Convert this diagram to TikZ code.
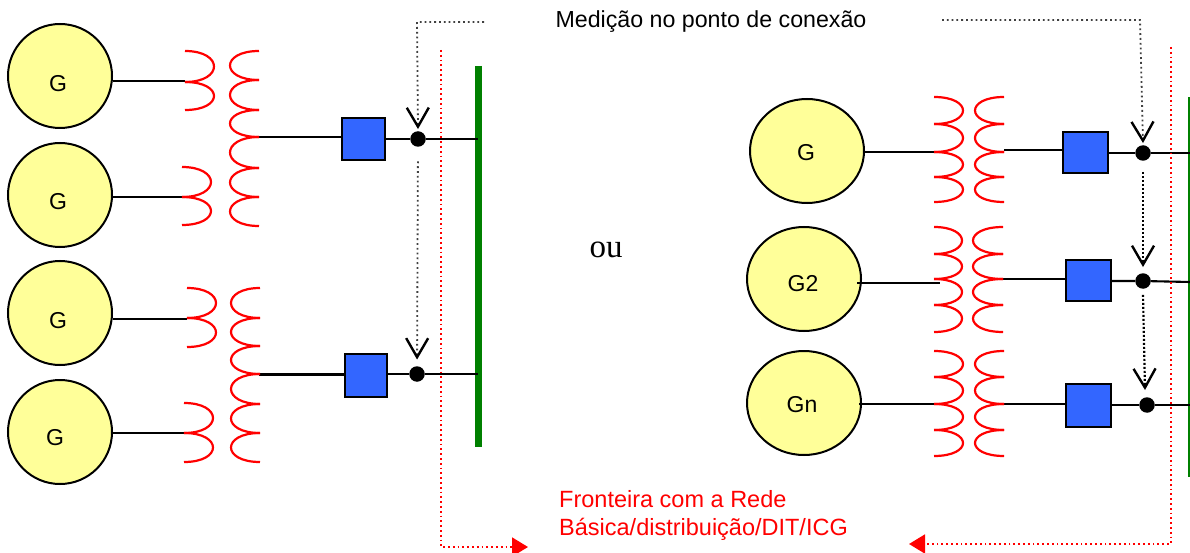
\documentclass[tikz,border=0pt]{standalone}
\usepackage{fontspec}
\setmainfont{Liberation Sans}
\newfontfamily\ouserif{Liberation Serif}
\usetikzlibrary{arrows.meta,shapes.geometric}
\definecolor{genyellow}{HTML}{FFFF99}
\definecolor{boxblue}{HTML}{3366FF}
\definecolor{busgreen}{HTML}{008000}
\tikzset{
    gen/.style={circle,draw=black,line width=2pt,fill=genyellow,minimum size=104pt,inner sep=0pt},
    genr/.style={ellipse,draw=black,line width=2pt,fill=genyellow,minimum width=114pt,minimum height=104pt,inner sep=0pt},
    genlabel/.style={font=\fontsize{23}{26}\selectfont,inner sep=0pt},
    breaker/.style={rectangle,draw=black,line width=2.4pt,fill=boxblue,inner sep=0pt},
    meter/.style={circle,fill=black,minimum size=15.5pt,inner sep=0pt},
    wire/.style={line width=2.1pt,black},
    coilline/.style={line width=2.2pt,red},
    bus/.style={line width=7pt,busgreen},
    medline/.style={line width=1.8pt,black!75,dash pattern=on 1.8pt off 3pt,-{Straight Barb[length=19pt,width=22pt,line width=2.4pt,black]}},
    medthick/.style={medline,line width=2.2pt,black,dash pattern=on 2pt off 2pt},
    border/.style={line width=1.8pt,red,dash pattern=on 1.8pt off 3pt,-{Triangle[length=16pt,width=19pt,red]}},
}
% one coil: x of the ends, x of the bulge, list of turns ytop/ybottom
\newcommand{\coil}[3]{%
    \pgfmathsetmacro{\coilctl}{#1+(#2-#1)*4/3}
    \foreach \ya/\yb in {#3} {
        \draw[coilline] (#1,\ya) .. controls (\coilctl,\ya) and (\coilctl,\yb) .. (#1,\yb);
    }
}
\begin{document}
\begin{tikzpicture}[x=1pt,y=-1pt]
    \useasboundingbox (0,0) rectangle (1190,553);
    % barras
    \coordinate (busltop) at (478,66);
    \coordinate (buslbot) at (478,447);
    \coordinate (busrtop) at (1190,97);
    \coordinate (busrbot) at (1190,477);
    \draw[bus] (busltop) -- (buslbot);
    \draw[bus,line width=4pt] (busrtop) -- (busrbot);
    % geradores esquerda
    \node[gen] (g1) at (60,76) {};
    \node[gen] (g2) at (60,195) {};
    \node[gen] (g3) at (60,313) {};
    \node[gen] (g4) at (60,432) {};
    \node[genlabel] (lg1) at (58,84) {G};
    \node[genlabel] (lg2) at (58,202) {G};
    \node[genlabel] (lg3) at (58,321) {G};
    \node[genlabel] (lg4) at (55,438) {G};
    % geradores direita
    \node[genr] (g5) at (807,151) {};
    \node[genr] (g6) at (804,279) {};
    \node[genr] (g7) at (804,403) {};
    \node[genlabel] (lg5) at (806,153) {G};
    \node[genlabel] (lg6) at (803,284) {G2};
    \node[genlabel] (lg7) at (802,405) {Gn};
    % disjuntores
    \node[breaker,minimum width=43pt,minimum height=42pt] (b1) at (363.5,139) {};
    \node[breaker,minimum width=42pt,minimum height=43pt] (b2) at (366,375.5) {};
    \node[breaker,minimum width=45pt,minimum height=41pt] (b3) at (1085.5,152.5) {};
    \node[breaker,minimum width=45pt,minimum height=41pt] (b4) at (1088.5,280.5) {};
    \node[breaker,minimum width=45pt,minimum height=43pt] (b5) at (1088.5,405.5) {};
    % medidores
    \node[meter] (m1) at (418,139) {};
    \node[meter] (m2) at (417,374) {};
    \node[meter] (m3) at (1143,153) {};
    \node[meter] (m4) at (1143,281) {};
    \node[meter] (m5) at (1147,405) {};
    % pontos nas bobinas e nas barras
    \coordinate (t1) at (185,81);
    \coordinate (t2) at (183,197);
    \coordinate (t3) at (187,319);
    \coordinate (t4) at (184,433);
    \coordinate (t5) at (940,152);
    \coordinate (t6) at (940,283);
    \coordinate (t7) at (940,404);
    \coordinate (s1) at (259,137);
    \coordinate (s2) at (259,374.5);
    \coordinate (s3) at (1004,150);
    \coordinate (s4) at (1003,279);
    \coordinate (s5) at (1004,404);
    \coordinate (e1) at (478,139);
    \coordinate (e2) at (478,374);
    \coordinate (e3) at (1190,153);
    \coordinate (e4) at (1190,282);
    \coordinate (e5) at (1190,405);
    % ligacoes
    \draw[wire] (g1.east |- t1) -- (t1);
    \draw[wire] (g2.east |- t2) -- (t2);
    \draw[wire] (g3.east |- t3) -- (t3);
    \draw[wire] (g4.east |- t4) -- (t4);
    \draw[wire] (g5.east |- t5) -- (t5);
    \draw[wire] ([xshift=-5pt]g6.east |- t6) -- (t6);
    \draw[wire] ([xshift=-3pt]g7.east |- t7) -- (t7);
    \draw[wire] (s1) -- (s1 -| b1.west);
    \draw[wire] (s2) -- (s2 -| b2.west);
    \draw[wire] (s3) -- (s3 -| b3.west);
    \draw[wire] (s4) -- (s4 -| b4.west);
    \draw[wire] (s5) -- (s5 -| b5.west);
    \draw[wire] (b1.east |- m1) -- (m1) -- (e1);
    \draw[wire] (b2.east |- m2) -- (m2) -- (e2);
    \draw[wire] (b3.east |- m3) -- (m3) -- (e3);
    \draw[wire] (b4.east |- m4) -- (m4) -- (e4);
    \draw[wire] (b5.east |- m5) -- (m5) -- (e5);
    % transformadores
    \coil{185}{214}{51/82,82/110}
    \coil{182}{211}{167/197,197/225}
    \coil{259}{230}{51/80,80/110,110/137,137/168,168/197,197/226}
    \coil{187}{216}{288/318,318/347}
    \coil{184}{213}{403/433,433/462}
    \coil{260}{231}{288/318,318/346,346/374,374/404,404/433,433/462}
    \coil{934}{963}{97/124,124/152,152/177,177/202}
    \coil{1004}{975}{97/124,124/152,152/177,177/202}
    \coil{934}{962}{227/254,254/279,279/305,305/332}
    \coil{1003}{973}{227/254,254/279,279/305,305/332}
    \coil{934}{963}{351/377,377/404,404/430,430/456}
    \coil{1004}{975}{351/377,377/404,404/430,430/456}
    % medicao
    \node[font=\fontsize{23.2}{26}\selectfont,inner sep=0pt] (med) at (711,22) {Medição no ponto de conexão};
    \coordinate (medl) at (484,22);
    \coordinate (medr) at (942,20);
    \draw[medline] (medl) -- (417,22) -- ([yshift=2pt]m1.north);
    \draw[medline,shorten <=14.5pt,shorten >=6.5pt] (m1) -- (m2);
    \draw[medline] (medr) -- (1140,20) -- ([yshift=2pt]m3.north);
    \draw[medthick,shorten <=11pt,shorten >=6pt] (m3.south) -- (m4.north);
    \draw[medthick] ([yshift=-6pt]m4.south) -- (1145,390);
    % fronteira
    \coordinate (frl) at (441,50);
    \coordinate (frr) at (1171,47);
    \coordinate (frla) at (528,547);
    \coordinate (frra) at (909,544);
    \draw[border] (frl) -- (441,547) -- (frla);
    \draw[border] (frr) -- (1171,544) -- (frra);
    \node[font=\fontsize{23.5}{28}\selectfont,red,align=left,inner sep=0pt,anchor=north west] (fr) at (559,490) {Fronteira com a Rede\\Básica/distribuição/DIT/ICG};
    \node[font=\ouserif\fontsize{33}{38}\selectfont,inner sep=0pt] (ou) at (606,250) {ou};
\end{tikzpicture}
\end{document}
